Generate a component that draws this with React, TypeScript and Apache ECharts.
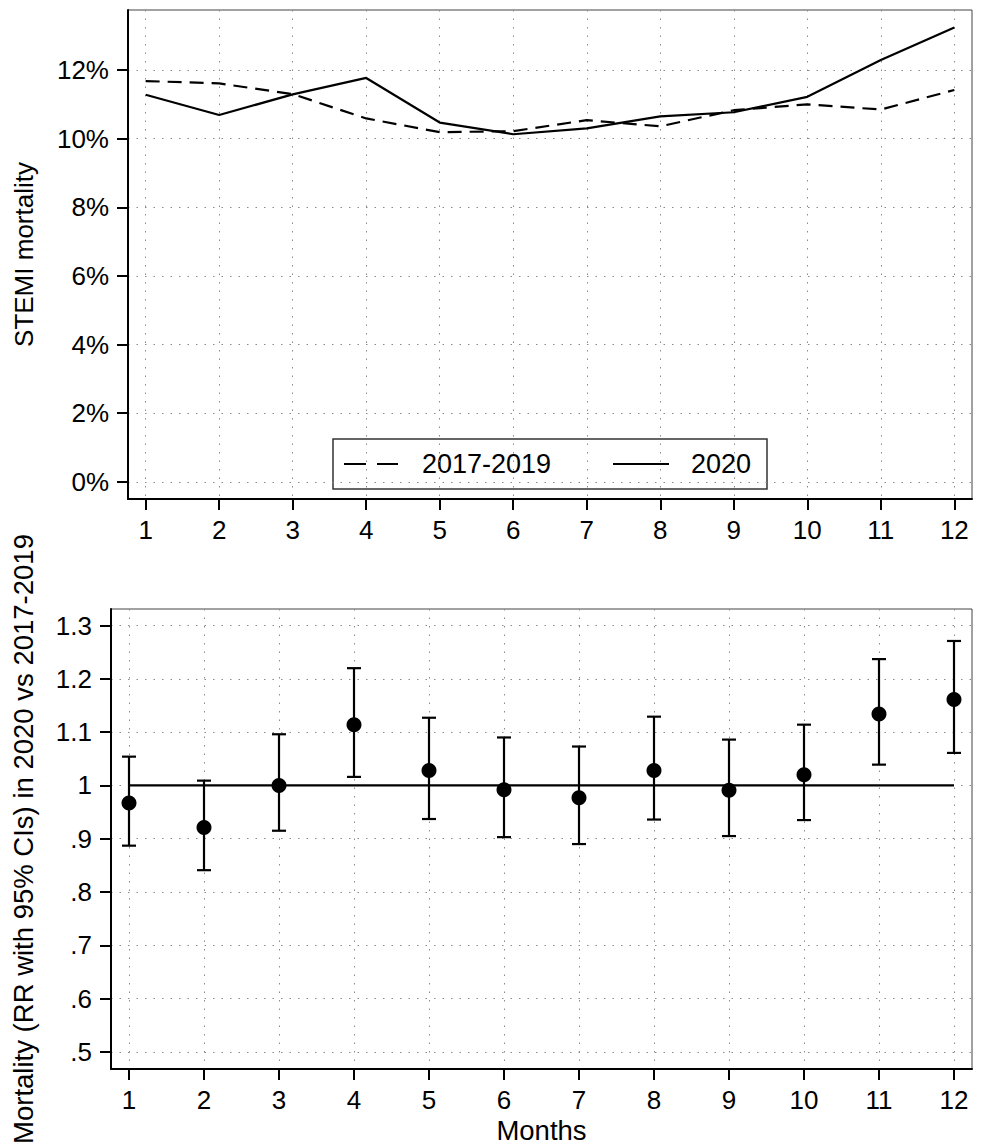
import React, { useEffect, useRef } from "react";
import * as echarts from "echarts";

const months = [1, 2, 3, 4, 5, 6, 7, 8, 9, 10, 11, 12];
const mort20172019 = [11.68, 11.61, 11.3, 10.59, 10.19, 10.22, 10.54, 10.36, 10.83, 11.0, 10.85, 11.42];
const mort2020 = [11.28, 10.69, 11.29, 11.77, 10.47, 10.13, 10.3, 10.65, 10.77, 11.22, 12.29, 13.24];
const rrPoint = [0.967, 0.921, 1.0, 1.114, 1.028, 0.992, 0.977, 1.028, 0.991, 1.02, 1.134, 1.161];
const rrLow = [0.887, 0.841, 0.915, 1.016, 0.937, 0.903, 0.89, 0.936, 0.905, 0.935, 1.039, 1.061];
const rrHigh = [1.054, 1.009, 1.096, 1.22, 1.127, 1.09, 1.073, 1.129, 1.086, 1.114, 1.237, 1.271];
const topTicks = [0, 2, 4, 6, 8, 10, 12];
const bottomTicks = [0.5, 0.6, 0.7, 0.8, 0.9, 1.0, 1.1, 1.2, 1.3];
const refLevel = 1;
const seriesNames = ["2017-2019", "2020"];

const FONT = "'Liberation Sans', Arial, Helvetica, sans-serif";

const gridLine = { show: true, lineStyle: { type: [1.5, 7] as any, color: "#8a8a8a", width: 1 } };

function xAxisCfg(gridIndex: number, withName: boolean) {
  return {
    type: "value",
    gridIndex,
    min: 0.76,
    max: 12.24,
    name: withName ? "Months" : "",
    nameLocation: "middle",
    nameGap: 47,
    nameTextStyle: { fontSize: 27.5, color: "#000", fontFamily: FONT },
    axisLine: { show: true, onZero: false, lineStyle: { color: "#000", width: 2 } },
    axisTick: { show: true, length: 11, customValues: months, lineStyle: { color: "#000", width: 2 } },
    axisLabel: { show: true, customValues: months, margin: 18, fontSize: 26, color: "#000", fontFamily: FONT },
    splitLine: gridLine,
  };
}

export default function App() {
  const ref = useRef<HTMLDivElement>(null);
  useEffect(() => {
    document.body.style.margin = "0";
    const chart = echarts.init(ref.current!, null, { renderer: "svg" });
    const legendY = 464;
    const option: any = {
      animation: false,
      backgroundColor: "#fff",
      textStyle: { fontFamily: FONT },
      grid: [
        { left: 128, top: 10, right: 10, bottom: 647, show: true, borderColor: "#444", borderWidth: 1, outerBoundsMode: "none" },
        { left: 111, top: 609, right: 10, bottom: 77, show: true, borderColor: "#444", borderWidth: 1, outerBoundsMode: "none" },
      ],
      graphic: [
        {
          type: "group",
          z: 100,
          children: [
            { type: "rect", shape: { x: 333, y: 439, width: 434, height: 50 }, style: { fill: "#fff", stroke: "#333", lineWidth: 1.5 } },
            { type: "line", shape: { x1: 344, y1: legendY, x2: 398, y2: legendY }, style: { stroke: "#000", lineWidth: 2.2, lineDash: [22, 11] } },
            { type: "text", x: 422, y: legendY, style: { text: seriesNames[0], fontSize: 27, fontFamily: FONT, fill: "#000", verticalAlign: "middle", align: "left" } },
            { type: "line", shape: { x1: 613, y1: legendY, x2: 669, y2: legendY }, style: { stroke: "#000", lineWidth: 2.2 } },
            { type: "text", x: 691, y: legendY, style: { text: seriesNames[1], fontSize: 27, fontFamily: FONT, fill: "#000", verticalAlign: "middle", align: "left" } },
          ],
        },
      ],
      xAxis: [xAxisCfg(0, false), xAxisCfg(1, true)],
      yAxis: [
        {
          type: "value",
          gridIndex: 0,
          min: -0.5,
          max: 13.75,
          name: "STEMI mortality",
          nameLocation: "middle",
          nameGap: 91,
          nameTextStyle: { fontSize: 26, color: "#000", fontFamily: FONT },
          axisLine: { show: true, onZero: false, lineStyle: { color: "#000", width: 2 } },
          axisTick: { show: true, length: 11, customValues: topTicks, lineStyle: { color: "#000", width: 2 } },
          axisLabel: { show: true, customValues: topTicks, margin: 19, fontSize: 26, color: "#000", fontFamily: FONT, formatter: (v: number) => v + "%" },
          splitLine: gridLine,
        },
        {
          type: "value",
          gridIndex: 1,
          min: 0.468,
          max: 1.331,
          name: "Mortality (RR with 95% CIs) in 2020 vs 2017-2019",
          nameLocation: "middle",
          nameGap: 74,
          nameTextStyle: { fontSize: 27.5, color: "#000", fontFamily: FONT },
          axisLine: { show: true, onZero: false, lineStyle: { color: "#000", width: 2 } },
          axisTick: { show: true, length: 11, customValues: bottomTicks, lineStyle: { color: "#000", width: 2 } },
          axisLabel: {
            show: true,
            customValues: bottomTicks,
            margin: 19,
            fontSize: 26,
            color: "#000",
            fontFamily: FONT,
            formatter: (v: number) => {
              const r = Math.round(v * 10) / 10;
              if (r === 1) return "1";
              if (r < 1) return "." + Math.round(r * 10);
              return r.toFixed(1);
            },
          },
          splitLine: gridLine,
        },
      ],
      series: [
        {
          name: seriesNames[0],
          type: "line",
          xAxisIndex: 0,
          yAxisIndex: 0,
          symbol: "none",
          data: months.map((m, i) => [m, mort20172019[i]]),
          lineStyle: { color: "#000", width: 2.2, type: [14, 8] },
          itemStyle: { color: "#000" },
        },
        {
          name: seriesNames[1],
          type: "line",
          xAxisIndex: 0,
          yAxisIndex: 0,
          symbol: "none",
          data: months.map((m, i) => [m, mort2020[i]]),
          lineStyle: { color: "#000", width: 2.2, type: "solid" },
          itemStyle: { color: "#000" },
        },
        {
          type: "line",
          xAxisIndex: 1,
          yAxisIndex: 1,
          symbol: "none",
          data: [
            [months[0], refLevel],
            [months[months.length - 1], refLevel],
          ],
          lineStyle: { color: "#000", width: 2.2 },
          silent: true,
        },
        {
          type: "custom",
          xAxisIndex: 1,
          yAxisIndex: 1,
          encode: { x: 0, y: [1, 2] },
          data: months.map((m, i) => [m, rrLow[i], rrHigh[i]]),
          renderItem: (params: any, api: any) => {
            const x = api.value(0);
            const lo = api.coord([x, api.value(1)]);
            const hi = api.coord([x, api.value(2)]);
            const hw = 7;
            const style = { stroke: "#000", lineWidth: 2.2 };
            return {
              type: "group",
              children: [
                { type: "line", shape: { x1: lo[0], y1: lo[1], x2: hi[0], y2: hi[1] }, style },
                { type: "line", shape: { x1: hi[0] - hw, y1: hi[1], x2: hi[0] + hw, y2: hi[1] }, style },
                { type: "line", shape: { x1: lo[0] - hw, y1: lo[1], x2: lo[0] + hw, y2: lo[1] }, style },
              ],
            };
          },
        },
        {
          type: "scatter",
          xAxisIndex: 1,
          yAxisIndex: 1,
          symbol: "circle",
          symbolSize: 15,
          z: 5,
          data: months.map((m, i) => [m, rrPoint[i]]),
          itemStyle: { color: "#000", opacity: 1 },
        },
      ],
    };
    chart.setOption(option);
    return () => chart.dispose();
  }, []);
  return <div ref={ref} style={{ width: 982, height: 1146 }} />;
}
